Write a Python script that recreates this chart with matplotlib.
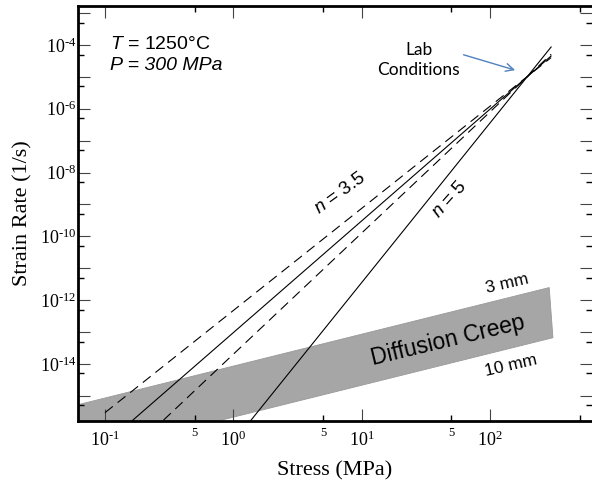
import matplotlib
matplotlib.use('Agg')
import matplotlib.pyplot as plt
from matplotlib.ticker import FixedLocator, FixedFormatter

plt.rcParams['mathtext.fontset'] = 'custom'
plt.rcParams['mathtext.it'] = 'Liberation Sans:italic'
plt.rcParams['mathtext.rm'] = 'Liberation Serif'

# flow laws (stress in MPa, strain rate in 1/s), end points
n5_stress = [1.0, 300]
n5_rate = [3.5e-17, 8.6e-5]
n35_stress = [0.1, 300]
n35_rate = [3.0e-17, 4.5e-5]
n32_stress = [0.1, 300]
n32_rate = [2.96e-16, 4.0e-5]
n38_stress = [0.1, 300]
n38_rate = [3.2e-18, 5.1e-5]

# diffusion creep band, 3 mm (upper) to 10 mm (lower) grain size
band_stress = [0.05, 290, 310, 0.05]
band_rate = [4.26e-16, 2.47e-12, 6.62e-14, 1.07e-17]

# axis ticks
x_major = [0.1, 1, 10, 100]
x_major_labels = ['$\\mathregular{10^{\\text{-}1}}$', '$\\mathregular{10^{0}}$',
                  '$\\mathregular{10^{1}}$', '$\\mathregular{10^{2}}$']
x_minor = [0.5, 5, 50, 500]
x_minor_labels = ['5', '5', '5', '']
y_exps = list(range(-16, -1))
y_minor_exps = list(range(-17, -2))

fig = plt.figure(figsize=(5.92, 4.86), dpi=100)
ax = fig.add_axes([78 / 592, 65 / 486, 514 / 592, 415 / 486])
ax.set_xscale('log')
ax.set_yscale('log')
ax.set_xlim(0.0616, 625)
ax.set_ylim(1.62e-16, 1.66e-3)

# diffusion creep band
ax.fill(band_stress, band_rate, color='#a6a6a6', lw=0.6, ec='#999999', zorder=1)

# dislocation creep lines
ax.plot(n5_stress, n5_rate, color='k', lw=0.8, zorder=2)
ax.plot(n35_stress, n35_rate, color='k', lw=0.8, zorder=2)
for s, r in [(n32_stress, n32_rate), (n38_stress, n38_rate)]:
    ln, = ax.plot(s, r, color='k', lw=0.8, zorder=2)
    ln.set_dashes((9, 5.5))

# ticks
ax.xaxis.set_major_locator(FixedLocator(x_major))
ax.xaxis.set_major_formatter(FixedFormatter(x_major_labels))
ax.xaxis.set_minor_locator(FixedLocator(x_minor))
ax.xaxis.set_minor_formatter(FixedFormatter(x_minor_labels))

ax.yaxis.set_major_locator(FixedLocator([10.0 ** e for e in y_exps]))
ax.yaxis.set_major_formatter(FixedFormatter(
    ['$\\mathregular{10^{\\text{-}%d}}$' % -e if e % 2 == 0 else '' for e in y_exps]))
ax.yaxis.set_minor_locator(FixedLocator([5 * 10.0 ** e for e in y_minor_exps]))
ax.yaxis.set_minor_formatter(FixedFormatter([''] * len(y_minor_exps)))

ax.tick_params(which='both', direction='in', top=True, right=True)
ax.tick_params(which='major', length=8.6, width=0.8, color='#444444')
ax.tick_params(which='minor', length=4.3, width=1.0, color='k')
ax.tick_params(axis='x', which='major', pad=7, labelsize=13)
ax.tick_params(axis='x', which='minor', pad=4, labelsize=9)
ax.tick_params(axis='y', which='major', pad=1, labelsize=13)
for lab in ax.get_xticklabels(which='both') + ax.get_yticklabels():
    lab.set_fontfamily('Liberation Serif')

for side in ['left', 'bottom', 'top']:
    ax.spines[side].set_linewidth(2)
ax.spines['right'].set_visible(False)

ax.set_xlabel('Stress (MPa)', fontfamily='Liberation Serif', fontsize=16, labelpad=8)
ax.set_ylabel('Strain Rate (1/s)', fontfamily='Liberation Serif', fontsize=16, labelpad=5)

# annotations
sans = 'Liberation Sans'
ax.text(0.062, 0.928, '$\\mathit{T}$ = 1250°C', transform=ax.transAxes,
        fontfamily=sans, fontsize=14, va='top', ha='left')
ax.text(0.062, 0.877, 'P = 300 MPa', transform=ax.transAxes,
        fontfamily=sans, fontsize=14, style='italic', va='top', ha='left')

ax.text(6.8, 2.3e-9, '$\\mathit{n}$ = 3.5', fontfamily=sans, fontsize=13.5,
        rotation=36, ha='center', va='center')
ax.text(48.8, 1.4e-9, '$\\mathit{n}$ = 5', fontfamily=sans, fontsize=13.5,
        rotation=48, ha='center', va='center')

ax.text(46.8, 5.6e-14, 'Diffusion Creep', fontfamily=sans, fontsize=16.5,
        rotation=13.5, ha='center', va='center', zorder=3)
ax.text(136, 3.2e-12, '3 mm', fontfamily=sans, fontsize=12.5,
        rotation=13, ha='center', va='center')
ax.text(146, 8.7e-15, '10 mm', fontfamily=sans, fontsize=12.5,
        rotation=13, ha='center', va='center')

ax.text(0.6625, 0.913, 'Lab\nConditions', transform=ax.transAxes,
        fontfamily='Lato', fontsize=12.5, ha='center', va='top',
        multialignment='center', linespacing=1.3)
ax.annotate('', xy=(165, 1.53e-5), xytext=(59.4, 5.2e-5),
            arrowprops=dict(arrowstyle='->', color='#4f81bd', lw=1.0,
                            mutation_scale=14))

fig.savefig('out.png', dpi=100)
